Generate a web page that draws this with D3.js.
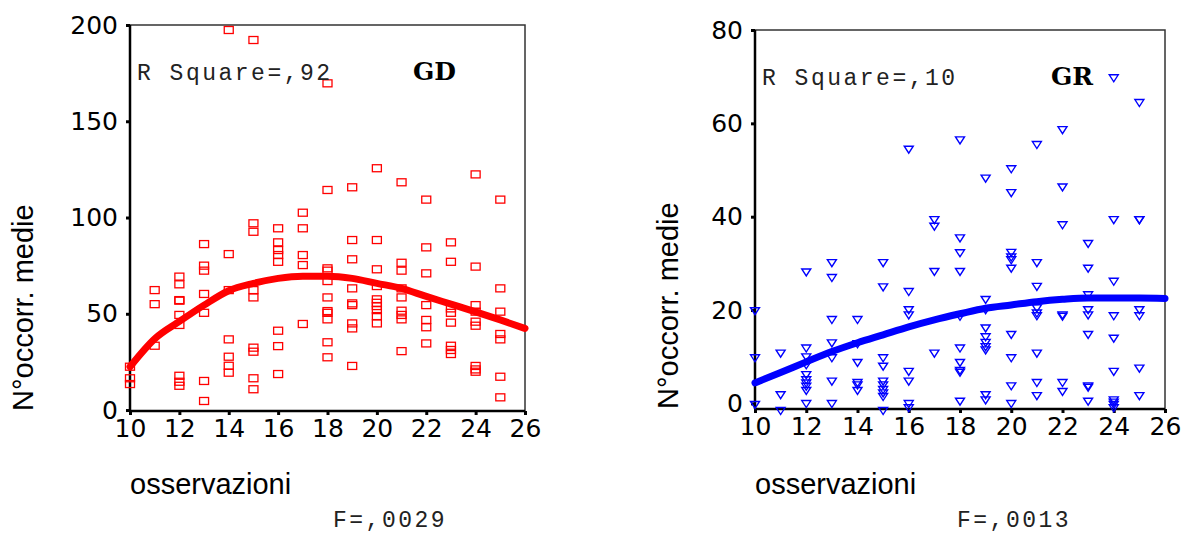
<!DOCTYPE html>
<html>
<head>
<meta charset="utf-8">
<script src="https://cdn.jsdelivr.net/npm/d3@7"></script>
<style>
  body { margin: 0; background: #fff; }
  .tick text { font-family: "DejaVu Sans"; font-size: 25px; fill: #000; }
  .tick line { stroke: #000; stroke-width: 3; }
  .mono { font-family: "Liberation Mono"; font-size: 23px; letter-spacing: 2.5px; fill: #222; }
  .tag { font-family: "DejaVu Serif"; font-weight: bold; font-size: 25px; fill: #000; }
  .lab { font-family: "Liberation Sans"; font-size: 29px; fill: #000; }
</style>
</head>
<body>
<script>
var gdX = [10,10,10, 11,11,11, 12,12,12,12,12,12,12,12,12, 13,13,13,13,13,13,13,
  14,14,14,14,14,14,14, 15,15,15,15,15,15,15,15,15, 16,16,16,16,16,16,16,16,
  17,17,17,17,17, 18,18,18,18,18,18,18,18,18,18,18, 19,19,19,19,19,19,19,19,19,
  20,20,20,20,20,20,20,20,20,20, 21,21,21,21,21,21,21,21,21, 22,22,22,22,22,22,22,
  23,23,23,23,23,23,23,23, 24,24,24,24,24,24,24,24,24, 25,25,25,25,25,25,25];
var gdY = [22.5,16.5,13.5, 62.3,55,33.4, 69.3,65.3,57.1,56.8,49.4,44.2,17.8,14.7,12.6,
  86.2,75,72.4,60.3,50.5,15.1,4.7, 197.4,81,62.3,36.7,27.7,23,19.4,
  192.2,97,92.6,62.3,58.5,32.4,30.3,16.5,10.8, 94.4,87.1,83.1,80.5,77,41.2,33.2,18.7,
  102.5,94.4,80.5,75.3,44.7, 169.7,114.3,73.6,72.4,67,58.5,51.4,50.5,47.1,35.2,27.4,
  115.7,88.3,78.3,63.2,55.4,54.5,45,42.4,22.9, 125.6,88.3,73.1,64.4,57.5,55.7,54,51.9,48.8,45,
  118.3,76.5,72.4,63.2,58.5,51.6,49.4,47.1,30.6, 109.3,84.5,71,54.5,46.8,43,34.6,
  87.1,77,52.8,50.5,45.4,33.4,31.2,29.1, 122.4,74.5,54.5,51.1,45.9,43.8,22.9,21.1,19.9,
  109.3,63.2,51.1,39.5,36.7,17.3,6.6];

var grX = [10,10,10, 11,11,11, 12,12,12,12,12,12,12,12,12,12, 13,13,13,13,13,13,13,
  14,14,14,14,14,14, 15,15,15,15,15,15,15,15,15,15, 16,16,16,16,16,16,16,16,
  17,17,17,17, 18,18,18,18,18,18,18,18,18,18, 19,19,19,19,19,19,19,19,19,19,
  20,20,20,20,20,20,20,20,20,20, 21,21,21,21,21,21,21,21,21, 22,22,22,22,22,22,22,
  23,23,23,23,23,23,23,23,23, 24,24,24,24,24,24,24,24,24,24, 25,25,25,25,25,25,25];
var grY = [19.8,9.7,-0.3, 10.7,1.8,-1.6, 28.1,11.8,9.9,8.2,6.1,5,4.3,3.6,2.7,-0.1,
  30.1,26.9,17.9,12.9,9.7,4.7,-0.1, 17.9,12.7,8.7,4.4,3.9,2.7,
  30.1,24.9,9.7,7.9,4.7,3.9,2.9,2.2,1.4,-1.6, 54.4,23.9,20,18.9,6.8,4.7,-0.1,-1,
  39.3,37.9,28.2,10.7, 56.4,35.4,32.2,28.2,18.6,11.8,8.7,7,6.6,0.4,
  48.2,22.2,20,16.1,14.2,13,12.1,11.4,1.8,0.7, 50.2,45.1,32.3,31.3,30.7,28.9,14.7,9.7,3.7,-0.1,
  55.4,30.1,25,20.4,19.3,18.7,10.7,4.4,1.6, 58.6,46.3,38.2,18.9,18.6,4.4,2.5,
  34.2,28.9,23.2,20,18.9,14.7,3.7,3.4,0.4, 69.7,39.3,26.1,18.7,13.9,6.8,0.7,0.2,-0.3,-1,
  64.4,39.3,39.3,20,18.7,7.5,1.6];

// fitted curves, read at each observation count
var fitX = [10,11,12,13,14,15,16,17,18,19,20,21,22,23,24,25,26];
var gdFit = [22.5,37,46,54.5,62,65.8,68.4,69.5,69.5,68.4,65.8,63.2,59,55,51,46.8,42.4];
var grFit = [4.4,6.6,8.9,11.1,13,14.7,16.4,17.9,19.2,20.4,21.1,21.8,22.3,22.6,22.6,22.6,22.5];

var xTicks = [10,12,14,16,18,20,22,24,26];
var gdTicks = [0,50,100,150,200];
var grTicks = [0,20,40,60,80];

var svg = d3.select('body').append('svg')
    .attr('width', 1182)
    .attr('height', 533);

function panel(o) {
    var x = d3.scaleLinear().domain([10, 26]).range([o.left, o.right]);
    var y = d3.scaleLinear().domain(o.yDomain).range([o.bottom, o.top]);

    // frame
    svg.append('rect')
        .attr('x', o.left).attr('y', o.top)
        .attr('width', o.right - o.left).attr('height', o.bottom - o.top)
        .attr('fill', 'none').attr('stroke', '#333').attr('stroke-width', 1.5);
    svg.append('line').attr('x1', o.left).attr('x2', o.left)
        .attr('y1', o.top).attr('y2', o.bottom)
        .attr('stroke', '#000').attr('stroke-width', 2.5);
    svg.append('line').attr('x1', o.left).attr('x2', o.right)
        .attr('y1', o.bottom).attr('y2', o.bottom)
        .attr('stroke', '#000').attr('stroke-width', 2.5);

    svg.append('g')
        .attr('transform', 'translate(' + o.left + ',0)')
        .call(d3.axisLeft(y).tickValues(o.yTicks).tickSize(4).tickPadding(8))
        .call(function (g) { g.select('.domain').remove(); });
    svg.append('g')
        .attr('transform', 'translate(0,' + o.bottom + ')')
        .call(d3.axisBottom(x).tickValues(xTicks).tickSize(4).tickPadding(4))
        .call(function (g) { g.select('.domain').remove(); });

    // points
    if (o.marker === 'square') {
        svg.append('g').selectAll('rect')
            .data(o.xs)
            .join('rect')
            .attr('x', function (d) { return x(d) - 4.5; })
            .attr('y', function (d, i) { return y(o.ys[i]) - 3.5; })
            .attr('width', 9).attr('height', 7)
            .attr('fill', 'none').attr('stroke', o.color).attr('stroke-width', 1.3);
    } else {
        svg.append('g').selectAll('path')
            .data(o.xs)
            .join('path')
            .attr('transform', function (d, i) { return 'translate(' + x(d) + ',' + y(o.ys[i]) + ')'; })
            .attr('d', 'M-4.5,-3.3L4.5,-3.3L0,3.7Z')
            .attr('fill', 'none').attr('stroke', o.color).attr('stroke-width', 1.4);
    }

    // fitted line
    svg.append('path')
        .datum(fitX)
        .attr('fill', 'none')
        .attr('stroke', o.color)
        .attr('stroke-width', 7)
        .attr('stroke-linecap', 'round')
        .attr('d', d3.line()
            .x(function (d) { return x(d); })
            .y(function (d, i) { return y(o.fit[i]); })
            .curve(d3.curveMonotoneX));

    svg.append('text').attr('class', 'mono')
        .attr('x', o.left + 7).attr('y', o.top + 55).text(o.rsq);
    svg.append('text').attr('class', 'tag')
        .attr('x', o.tagX).attr('y', o.top + 55).text(o.tag);

    svg.append('text').attr('class', 'lab')
        .attr('transform', 'translate(' + o.yLabX + ',' + o.bottom + ') rotate(-90)')
        .text('N°occorr. medie');
    svg.append('text').attr('class', 'lab')
        .attr('x', o.left).attr('y', 494).text('osservazioni');
    svg.append('text').attr('class', 'mono')
        .attr('x', o.fX).attr('y', 527).text(o.fText);
}

panel({
    left: 130, right: 525, top: 25, bottom: 411,
    yDomain: [-0.5, 200], yTicks: gdTicks,
    xs: gdX, ys: gdY, fit: gdFit, color: '#ff0000', marker: 'square',
    rsq: 'R Square=,92', tag: 'GD', tagX: 413, yLabX: 33,
    fText: 'F=,0029', fX: 333
});

panel({
    left: 755, right: 1165, top: 30, bottom: 409,
    yDomain: [-1.2, 80], yTicks: grTicks,
    xs: grX, ys: grY, fit: grFit, color: '#0000ff', marker: 'triangle',
    rsq: 'R Square=,10', tag: 'GR', tagX: 1051, yLabX: 678,
    fText: 'F=,0013', fX: 957
});
</script>
</body>
</html>
